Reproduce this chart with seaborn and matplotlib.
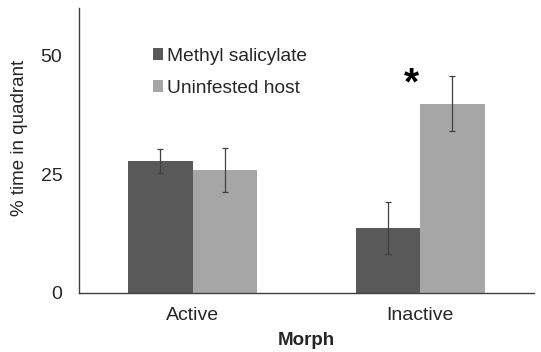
import matplotlib
matplotlib.use("Agg")
import matplotlib.pyplot as plt
import seaborn as sns
import pandas as pd
import numpy as np

morphs = ["Active", "Inactive"]
series = ["Methyl salicylate", "Uninfested host"]
ms_vals = [27.8, 13.6]
uh_vals = [25.9, 39.8]
ms_err = [2.6, 5.5]
uh_err = [4.6, 5.8]
yticks = [0, 25, 50]
colors = ["#595959", "#a6a6a6"]

sns.set_theme(style="white")
plt.rcParams['font.family'] = ['Liberation Sans', 'DejaVu Sans']

df = pd.DataFrame({
    "Morph": morphs * 2,
    "Treatment": [series[0]] * 2 + [series[1]] * 2,
    "value": ms_vals + uh_vals,
    "err": ms_err + uh_err,
})

fig = plt.figure(figsize=(5.41, 3.52), dpi=100)
ax = fig.add_axes([0.146, 0.168, 0.841, 0.809])

sns.barplot(data=df, x="Morph", y="value", hue="Treatment", order=morphs,
            hue_order=series, palette=colors, width=0.567, gap=0,
            errorbar=None, saturation=1, ax=ax, legend=True, linewidth=0)

# error bars at bar centers
for cont, errs in zip(ax.containers, [ms_err, uh_err]):
    xs = [p.get_x() + p.get_width() / 2 for p in cont.patches]
    hs = [p.get_height() for p in cont.patches]
    ax.errorbar(xs, hs, yerr=errs, fmt="none", ecolor="#404040",
                elinewidth=0.9, capsize=2.5, capthick=0.9)

# significance star above inactive group
ax.text(1 - 0.04, 44.0, "*", ha="center", va="center", fontsize=28,
        fontweight="bold", color="black")

ax.set_xlim(-0.5, 1.5)
ax.set_ylim(0, 60)
ax.set_yticks(yticks)
ax.set_yticklabels([str(t) for t in yticks], fontsize=14)
ax.set_xticks([0, 1])
ax.set_xticklabels(morphs, fontsize=14)
ax.set_xticks([0.5, 1.5], minor=True)
ax.tick_params(axis="x", which="major", length=0, pad=10)
ax.tick_params(axis="x", which="minor", direction="in", length=5, width=1, color="#404040")
ax.tick_params(axis="y", direction="in", length=5, width=1, color="#404040", pad=12)
for s in ["top", "right"]:
    ax.spines[s].set_visible(False)
for s in ["left", "bottom"]:
    ax.spines[s].set_color("#404040")
    ax.spines[s].set_linewidth(1)

ax.set_ylabel("% time in quadrant", fontsize=13.5)
ax.yaxis.set_label_coords(-0.112, 0.544)
ax.set_xlabel("Morph", fontsize=13.5, fontweight="bold", labelpad=6)

leg = ax.legend(loc="upper left", bbox_to_anchor=(0.145, 0.888), frameon=False,
                fontsize=13.8, handlelength=0.55, handleheight=0.55,
                handletextpad=0.2, labelspacing=0.8, borderaxespad=0)

fig.savefig("out.png", dpi=100)
